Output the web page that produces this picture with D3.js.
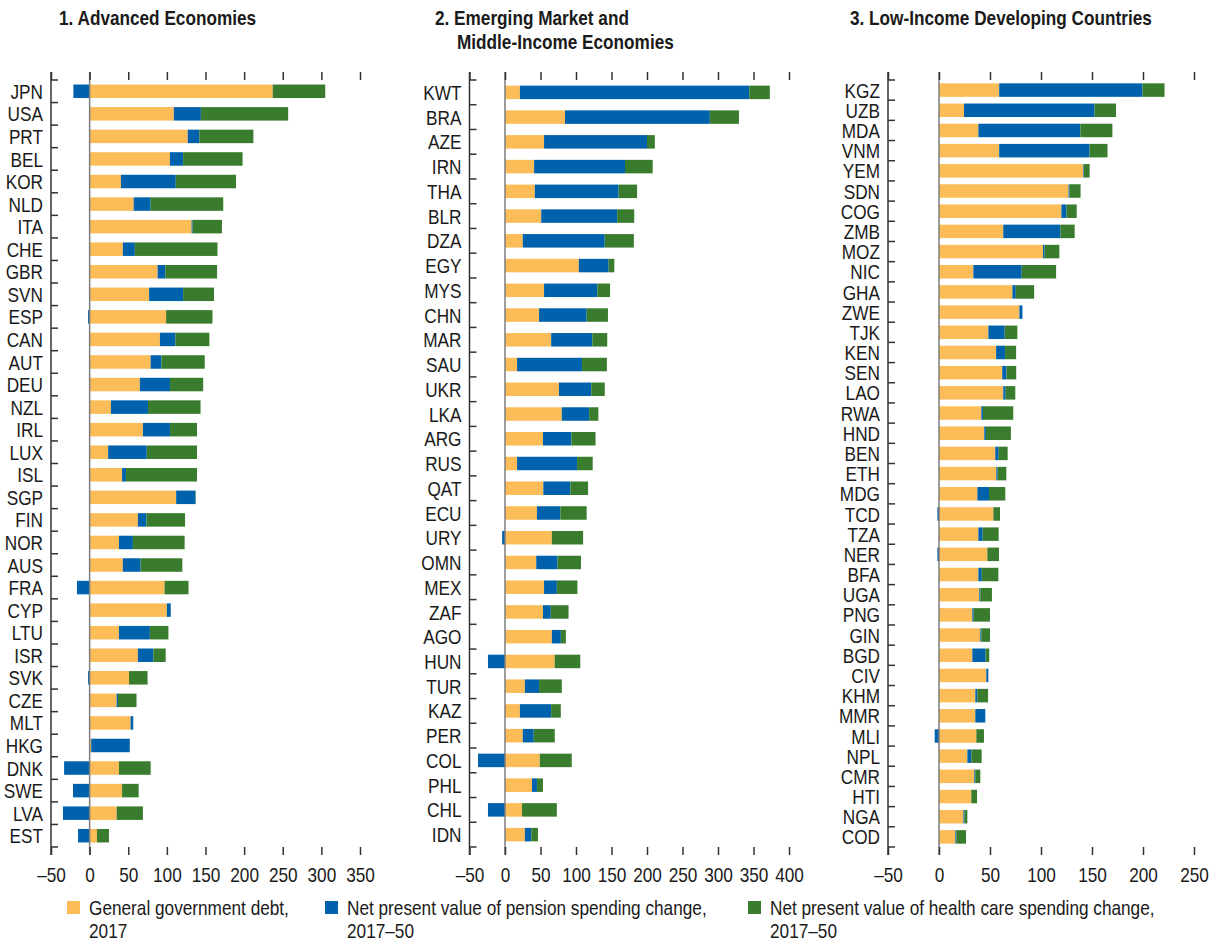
<!DOCTYPE html>
<html>
<head>
<meta charset="utf-8">
<script src="https://cdn.jsdelivr.net/npm/d3@7"></script>
<style>
    body { margin: 0; background: #fff; }
    svg text { font-family: "Liberation Sans", Arial, sans-serif; fill: #1a1a1a; }
    .title { font-weight: bold; font-size: 20px; }
    .cat, .tick text, .legend text { font-size: 21px; }
</style>
</head>
<body>
<div id="chart"></div>
<script>
// debt + NPV of pension and health spending changes, percent of GDP

// 1. advanced economies
let advNames = ["JPN","USA","PRT","BEL","KOR","NLD","ITA","CHE","GBR","SVN","ESP","CAN","AUT","DEU","NZL","IRL","LUX",
    "ISL","SGP","FIN","NOR","AUS","FRA","CYP","LTU","ISR","SVK","CZE","MLT","HKG","DNK","SWE","LVA","EST"];
let advDebt = [237,109,127,104,40.5,57,132,43,88,77,99,91,79,65,27.6,69,24,
    42,112,62.5,38,43,97,100,38,62.5,51,35,53,2,38,42,35,9.5];
let advPension = [-21,35,15,17,71,22,1.3,15.5,10,44,-2,20,14,39,48,35,50,
    5,25,11,18,23,-16.4,5,40,20,-2,1.7,3.5,50,-33,-21.5,-34.5,-15];
let advHealth = [68,113,70,77,78,94,38,107,67,40,60,44,56,43,68,35,65,
    92,0.5,50,67,54,31,0,24,16,24,24,0,0,41,21.5,34,15.5];
let advTicks = [-50,0,50,100,150,200,250,300,350];

// 2. emerging market and middle-income economies
let emNames = ["KWT","BRA","AZE","IRN","THA","BLR","DZA","EGY","MYS","CHN","MAR","SAU","UKR","LKA","ARG","RUS",
    "QAT","ECU","URY","OMN","MEX","ZAF","AGO","HUN","TUR","KAZ","PER","COL","PHL","CHL","IDN"];
let emDebt = [21,84.5,55,41,42,51,25,104,55,48,65,17,76,80,53.5,17,
    54,45,66,44,55,53.5,66,70,28,21,25,49,38,24,28];
let emPension = [323,204,145,128,118,107,115.5,42,75,67,58,91.5,45.5,38.5,40,84.5,
    38,33,-4,30,18,11,12.7,-24,20,44,15.5,-38,7,-24,9];
let emHealth = [29,41,11,39,26,24,41,8,18,30,21,35,19,13,34,22,
    25,37,44,33,29,25,7,36,32,13.6,29.6,45,8.5,49,9.4];
let emTicks = [-50,0,50,100,150,200,250,300,350,400];

// 3. low-income developing countries
let lidcNames = ["KGZ","UZB","MDA","VNM","YEM","SDN","COG","ZMB","MOZ","NIC","GHA","ZWE","TJK","KEN","SEN","LAO","RWA","HND","BEN",
    "ETH","MDG","TCD","TZA","NER","BFA","UGA","PNG","GIN","BGD","CIV","KHM","MMR","MLI","NPL","CMR","HTI","NGA","COD"];
let lidcDebt = [59,24.5,38.6,59,141.5,127,120,63,102,33.7,72,78.8,48.4,56,62,63,41.5,44.4,55.2,
    56.2,37.6,53.3,38.6,47.4,38.6,39.5,32.7,40.5,32.7,46.4,35.6,35.6,36.6,27.8,34.6,31.7,23.9,16];
let lidcPension = [140.5,128,100,88.6,0.7,1,5,56,1.6,47.4,3.3,3,16,8.8,4.2,2.3,1.6,1.6,3.3,
    1.3,11.4,-1.6,4.2,-1.6,3.3,1,1.3,1,13,2,2,9.8,-4.2,3.9,1,0,1,1];
let lidcHealth = [21.6,21,31.4,17.6,5.5,10.8,10,14,14.4,33.7,18,0,12.4,10.8,9.5,9.5,29.7,24.5,8.8,
    8.5,16,6.5,15.7,11.4,16.3,11.4,16,8.5,3.6,0,10.5,0,7.5,10.1,4.9,5.6,2.9,9.5];
let lidcTicks = [-50,0,50,100,150,200,250];

let seriesNames = ["General government debt, 2017", "Net present value of pension spending change, 2017–50",
    "Net present value of health care spending change, 2017–50"];
let colors = ["#fcbc58", "#0062ad", "#3a7c2d"];

// no narrow font installed, so squeeze the regular one
let SQUEEZE = 0.82;

let svg = d3.select("#chart").append("svg")
    .attr("width", 1219)
    .attr("height", 944);

class StackPanel {

    constructor(svg, config) {
        this.svg = svg;
        this.config = config;
        this.initvis();
    }

    initvis() {
        let vis = this;
        let c = vis.config;

        vis.top = 80;
        vis.bottom = 847;
        vis.barH = 13.5;

        vis.g = vis.svg.append("g");

        vis.x = d3.scaleLinear()
            .domain([c.ticks[0], c.ticks[c.ticks.length - 1]])
            .range(c.range);

        vis.y = d3.scaleBand()
            .domain(c.names)
            .range([vis.top, vis.bottom])
            .padding(0);

        // title, one or two lines
        let title = vis.g.append("text")
            .attr("class", "title")
            .attr("transform", "translate(" + c.titleX + ",25) scale(0.86,1)");
        c.title.forEach((t, i) => {
            title.append("tspan")
                .attr("x", i > 0 ? c.titleIndent / 0.86 : 0)
                .attr("dy", i > 0 ? 24 : 0)
                .text(t);
        });

        vis.wrangledata();
    }

    wrangledata() {
        let vis = this;
        let c = vis.config;

        vis.displayData = [];
        c.names.forEach((name, i) => {
            let d = c.debt[i], p = c.pension[i], h = c.health[i];
            vis.displayData.push({name: name, k: 0, x0: 0, x1: d});
            if (p >= 0) vis.displayData.push({name: name, k: 1, x0: d, x1: d + p});
            else vis.displayData.push({name: name, k: 1, x0: p, x1: 0});
            let hs = d + Math.max(p, 0);
            vis.displayData.push({name: name, k: 2, x0: hs, x1: hs + h});
        });

        vis.updatevis();
    }

    updatevis() {
        let vis = this;
        let c = vis.config;

        vis.g.selectAll("rect.bar")
            .data(vis.displayData)
            .enter()
            .append("rect")
            .attr("class", "bar")
            .attr("x", d => vis.x(d.x0))
            .attr("width", d => Math.max(0, vis.x(d.x1) - vis.x(d.x0)))
            .attr("y", d => vis.y(d.name) + vis.y.bandwidth() / 2 - vis.barH / 2)
            .attr("height", vis.barH)
            .attr("fill", d => colors[d.k]);

        // zero line
        vis.g.append("line")
            .attr("x1", vis.x(0)).attr("x2", vis.x(0))
            .attr("y1", vis.top - 8).attr("y2", vis.bottom + 8)
            .attr("stroke", "#7d7d7d")
            .attr("stroke-width", 1.5);

        // x ticks, top (no labels) and bottom
        let xTop = d3.axisTop(vis.x).tickValues(c.ticks).tickSize(8).tickFormat("");
        let xBottom = d3.axisBottom(vis.x).tickValues(c.ticks).tickSize(8).tickPadding(12)
            .tickFormat(d => d < 0 ? "–" + Math.abs(d) : d);

        vis.g.append("g")
            .attr("transform", "translate(0," + vis.top + ")")
            .call(xTop);
        let xb = vis.g.append("g")
            .attr("transform", "translate(0," + vis.bottom + ")")
            .call(xBottom);
        vis.g.selectAll(".domain").remove();
        vis.g.selectAll(".tick line").attr("stroke", "#333").attr("stroke-width", 1.5);
        xb.selectAll(".tick text")
            .attr("fill", "#1a1a1a")
            .attr("font-family", null)
            .attr("font-size", null)
            .attr("transform", "scale(" + SQUEEZE + ",1)");

        // left axis with category boundary ticks
        let x0 = vis.x(c.ticks[0]);
        vis.g.append("line")
            .attr("x1", x0).attr("x2", x0)
            .attr("y1", vis.top - 8).attr("y2", vis.bottom + 8)
            .attr("stroke", "#333")
            .attr("stroke-width", 1.5);

        let bounds = d3.range(c.names.length + 1).map(i => vis.top + i * vis.y.step());
        vis.g.selectAll("line.cattick")
            .data(bounds)
            .enter()
            .append("line")
            .attr("class", "cattick")
            .attr("x1", x0).attr("x2", x0 + 7)
            .attr("y1", d => d).attr("y2", d => d)
            .attr("stroke", "#333")
            .attr("stroke-width", 1.5);

        vis.g.selectAll("text.cat")
            .data(c.names)
            .enter()
            .append("text")
            .attr("class", "cat")
            .attr("transform", d => "translate(" + (x0 - 8) + "," + (vis.y(d) + vis.y.bandwidth() / 2) + ") scale(" + SQUEEZE + ",1)")
            .attr("dy", "0.36em")
            .style("text-anchor", "end")
            .text(d => d);
    }
}

new StackPanel(svg, {
    title: ["1. Advanced Economies"], titleX: 59, titleIndent: 0,
    names: advNames, debt: advDebt, pension: advPension, health: advHealth,
    ticks: advTicks, range: [51, 360]
});

new StackPanel(svg, {
    title: ["2. Emerging Market and", "Middle-Income Economies"], titleX: 435, titleIndent: 22,
    names: emNames, debt: emDebt, pension: emPension, health: emHealth,
    ticks: emTicks, range: [469.5, 789]
});

new StackPanel(svg, {
    title: ["3. Low-Income Developing Countries"], titleX: 850, titleIndent: 0,
    names: lidcNames, debt: lidcDebt, pension: lidcPension, health: lidcHealth,
    ticks: lidcTicks, range: [888, 1194]
});

// legend
let legendX = [67, 325, 748];
let legendText = [["General government debt,", "2017"],
    ["Net present value of pension spending change,", "2017–50"],
    ["Net present value of health care spending change,", "2017–50"]];

let legend = svg.append("g").attr("class", "legend");
seriesNames.forEach((s, i) => {
    legend.append("rect")
        .attr("x", legendX[i])
        .attr("y", 901)
        .attr("width", 13)
        .attr("height", 13)
        .attr("fill", colors[i]);
    let t = legend.append("text")
        .attr("transform", "translate(" + (legendX[i] + 22) + ",915) scale(" + SQUEEZE + ",1)");
    legendText[i].forEach((line, j) => {
        t.append("tspan")
            .attr("x", 0)
            .attr("dy", j > 0 ? 23 : 0)
            .text(line);
    });
});
</script>
</body>
</html>
